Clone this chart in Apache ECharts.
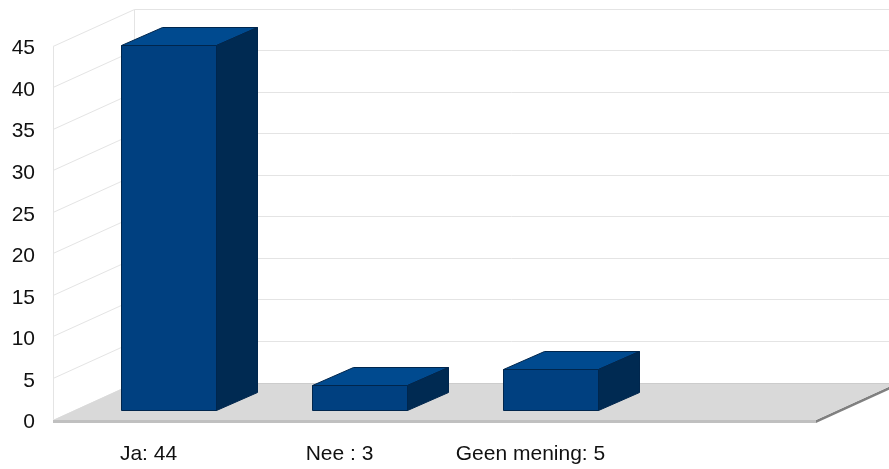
<!DOCTYPE html>
<html>
<head>
<meta charset="utf-8">
<style>html,body{margin:0;padding:0;background:#fff}#c{width:889px;height:469px}</style>
<script src="https://cdn.jsdelivr.net/npm/echarts@6/dist/echarts.min.js"></script>
</head>
<body>
<div id="c"></div>
<script>
var categories = ['Ja: 44', 'Nee : 3', 'Geen mening: 5', ''];
var barValues = [44, 3, 5];
var yTicks = [0, 5, 10, 15, 20, 25, 30, 35, 40, 45];

var depthX = 81, depthY = 37;         // perspective of the chart box
var floorDepthY = 37;
var barShiftX = 20.8, barShiftY = 9.2; // bars stand inside the floor
var barDepthX = 41, barDepthY = 18;
var barPx = 95;

function snap(v) { return Math.round(v) + 0.5; }

function renderWall(params, api) {
  var cs = params.coordSys;
  var yRaw = api.coord([0, api.value(1)])[1];
  var y = snap(yRaw);
  var x0 = cs.x, x1 = cs.x + depthX, y1 = snap(yRaw - depthY);
  var children = [
    { type: 'line', shape: { x1: x0, y1: y, x2: x1 + 0.5, y2: y1 },
      style: { stroke: '#e4e4e4', lineWidth: 1 } },
    { type: 'line', shape: { x1: x1 + 0.5, y1: y1, x2: 889, y2: y1 },
      style: { stroke: '#e4e4e4', lineWidth: 1 } }
  ];
  if (params.dataIndex === yTicks.length - 1) {
    var by = api.coord([0, 0])[1];
    children.push(
      { type: 'line', shape: { x1: x0 + 0.5, y1: y, x2: x0 + 0.5, y2: by },
        style: { stroke: '#e4e4e4', lineWidth: 1 } },
      { type: 'line', shape: { x1: x1 + 0.5, y1: y1, x2: x1 + 0.5, y2: by - floorDepthY },
        style: { stroke: '#e4e4e4', lineWidth: 1 } }
    );
  }
  return { type: 'group', children: children };
}

function renderFloor(params, api) {
  var cs = params.coordSys;
  var y = Math.ceil(api.coord([0, 0])[1]);
  var l = cs.x, r = cs.x + cs.width - 1;
  var dy = floorDepthY;
  return { type: 'group', children: [
    { type: 'polygon', shape: { points: [[r, y + 3], [r + depthX, y + 3 - dy], [r + depthX, y - dy], [r, y]] },
      style: { fill: '#808080' } },
    { type: 'polygon', shape: { points: [[l, y], [l + depthX, y - dy], [r + depthX, y - dy], [r, y]] },
      style: { fill: '#d9d9d9' } },
    { type: 'rect', shape: { x: l, y: y, width: r - l, height: 3 }, style: { fill: '#c0c0c0' } },
    { type: 'line', shape: { x1: l + depthX, y1: y - dy + 0.5, x2: 889, y2: y - dy + 0.5 },
      style: { stroke: '#cccccc', lineWidth: 1 } }
  ] };
}

function renderBar(params, api) {
  var base = api.coord([api.value(0), 0]);
  var topPt = api.coord([api.value(0), api.value(1)]);
  var cx = base[0] + barShiftX;
  var x0 = Math.floor(cx - barPx / 2) + 0.5, x1 = x0 + barPx;
  var yb = snap(base[1] - barShiftY), yt = snap(topPt[1] - barShiftY);
  var edge = { stroke: '#00264d', lineWidth: 1, lineJoin: 'round' };
  return { type: 'group', children: [
    { type: 'polygon', shape: { points: [[x0, yt], [x0 + barDepthX, yt - barDepthY], [x1 + barDepthX, yt - barDepthY], [x1, yt]] },
      style: Object.assign({ fill: '#004a8f' }, edge) },
    { type: 'polygon', shape: { points: [[x1, yt], [x1 + barDepthX, yt - barDepthY], [x1 + barDepthX, yb - barDepthY], [x1, yb]] },
      style: Object.assign({ fill: '#002a52' }, edge) },
    { type: 'rect', shape: { x: x0, y: yt, width: barPx, height: yb - yt },
      style: Object.assign({ fill: '#004080' }, edge) }
  ] };
}

var font = '"Liberation Sans", Arial, sans-serif';
var chart = echarts.init(document.getElementById('c'), null, { renderer: 'canvas' });
chart.setOption({
  animation: false,
  backgroundColor: '#ffffff',
  grid: { left: 53, right: 72, top: 45.5, bottom: 49.5, containLabel: false },
  xAxis: {
    type: 'category', data: categories,
    axisLine: { show: false }, axisTick: { show: false }, splitLine: { show: false },
    axisLabel: { interval: 0, margin: 24, color: '#111111', fontFamily: font, fontSize: 21 }
  },
  yAxis: {
    type: 'value', min: 0, max: 45, interval: 5,
    axisLine: { show: false }, axisTick: { show: false }, splitLine: { show: false },
    axisLabel: { margin: 18, verticalAlign: 'top', lineHeight: 6, color: '#111111', fontFamily: font, fontSize: 21 }
  },
  series: [
    { type: 'custom', name: 'walls', clip: false, silent: true, z: 1, renderItem: renderWall,
      encode: { x: 0, y: 1 }, data: yTicks.map(function (t) { return [0, t]; }) },
    { type: 'custom', name: 'floor', clip: false, silent: true, z: 2, renderItem: renderFloor,
      encode: { x: 0, y: 1 }, data: [[0, 0]] },
    { type: 'custom', name: 'bars', clip: false, z: 3, renderItem: renderBar,
      encode: { x: 0, y: 1 }, data: barValues.map(function (v, i) { return [i, v]; }) }
  ]
});
</script>
</body>
</html>
